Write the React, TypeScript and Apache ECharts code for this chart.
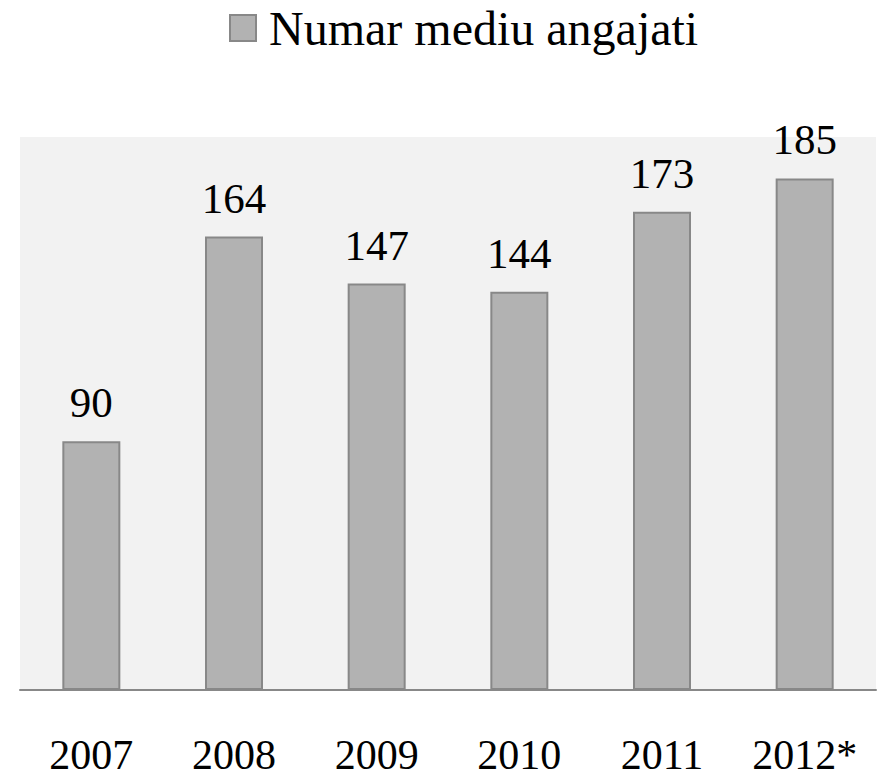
import React, { useEffect, useRef } from "react";
import * as echarts from "echarts";

const categories = ["2007", "2008", "2009", "2010", "2011", "2012*"];
const seriesName = "Numar mediu angajati";
const values = [90, 164, 147, 144, 173, 185];

const FONT = "'Liberation Serif', 'DejaVu Serif', serif";

export default function App() {
  const ref = useRef<HTMLDivElement>(null);
  useEffect(() => {
    document.body.style.margin = "0";
    if (!ref.current) return;
    const chart = echarts.init(ref.current, null, { renderer: "svg" });
    chart.setOption({
      animation: false,
      backgroundColor: "#ffffff",
      textStyle: { fontFamily: FONT },
      legend: {
        data: [seriesName],
        left: 229,
        top: 4,
        padding: 0,
        itemWidth: 26,
        itemHeight: 26,
        icon: "rect",
        textStyle: {
          fontFamily: FONT,
          fontSize: 48,
          color: "#000000",
          padding: [0, 0, 0, 8],
        },
      },
      grid: {
        left: 20,
        right: 2,
        top: 137,
        bottom: 88,
        show: true,
        backgroundColor: "#f2f2f2",
        borderWidth: 0,
        containLabel: false,
      },
      xAxis: {
        type: "category",
        data: categories,
        axisLine: { show: true, lineStyle: { color: "#888888", width: 2 } },
        axisTick: { show: false },
        axisLabel: {
          interval: 0,
          margin: 44,
          fontFamily: FONT,
          fontSize: 42,
          lineHeight: 42,
          color: "#000000",
        },
      },
      yAxis: {
        type: "value",
        min: 0,
        max: 200,
        show: false,
        splitLine: { show: false },
      },
      series: [
        {
          name: seriesName,
          type: "bar",
          data: values,
          barWidth: 58,
          itemStyle: {
            color: "#b2b2b2",
            borderColor: "#888888",
            borderWidth: 2,
          },
          label: {
            show: true,
            position: "top",
            distance: 17,
            fontFamily: FONT,
            fontSize: 43,
            color: "#000000",
          },
        },
      ],
    });
    return () => chart.dispose();
  }, []);
  return <div ref={ref} style={{ width: 878, height: 778 }} />;
}
